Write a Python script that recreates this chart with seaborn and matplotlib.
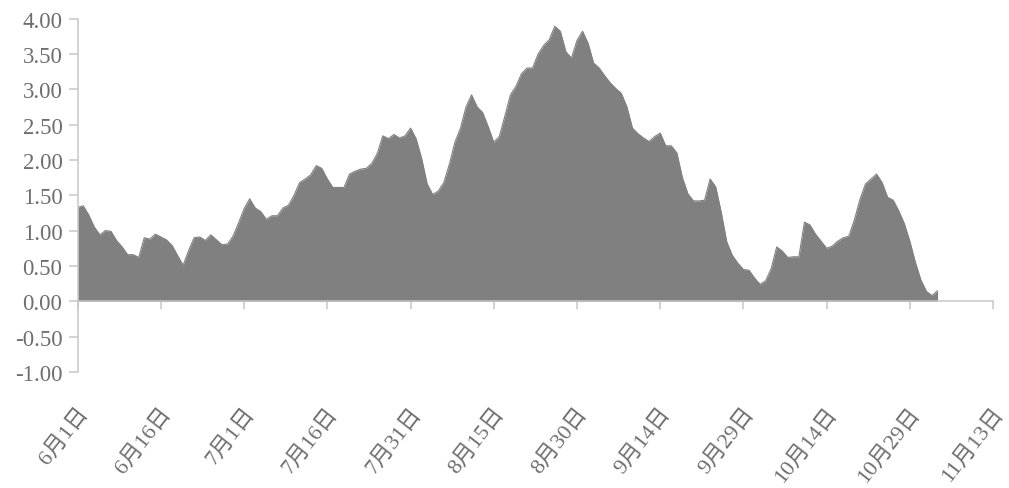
import numpy as np
import pandas as pd
import matplotlib
matplotlib.use("Agg")
import matplotlib.pyplot as plt
import matplotlib.dates as mdates
import matplotlib.transforms as mtransforms
import seaborn as sns

# ---- data (daily values, 6月1日 onward) ----
start_date = "2023-06-01"
values = [
    1.33, 1.35, 1.22, 1.05, 0.94, 1.00, 0.99, 0.86, 0.77, 0.66,   # d0-9
    0.66, 0.62, 0.90, 0.88, 0.95, 0.91, 0.87, 0.79, 0.65, 0.51,   # d10-19
    0.72, 0.90, 0.91, 0.86, 0.94, 0.87, 0.80, 0.81, 0.92, 1.11,   # d20-29
    1.31, 1.45, 1.32, 1.27, 1.16, 1.21, 1.21, 1.32, 1.36, 1.50,   # d30-39
    1.68, 1.73, 1.79, 1.92, 1.88, 1.73, 1.61, 1.61, 1.61, 1.80,   # d40-49
    1.84, 1.87, 1.88, 1.95, 2.09, 2.34, 2.30, 2.36, 2.31, 2.34,   # d50-59
    2.45, 2.30, 2.02, 1.66, 1.51, 1.56, 1.68, 1.94, 2.25, 2.45,   # d60-69
    2.75, 2.92, 2.75, 2.67, 2.47, 2.25, 2.33, 2.62, 2.92, 3.04,   # d70-79
    3.22, 3.30, 3.30, 3.50, 3.62, 3.70, 3.89, 3.82, 3.53, 3.44,   # d80-89
    3.69, 3.82, 3.65, 3.37, 3.30, 3.19, 3.09, 3.01, 2.94, 2.75,   # d90-99
    2.45, 2.37, 2.31, 2.26, 2.33, 2.38, 2.20, 2.20, 2.10, 1.75,   # d100-109
    1.52, 1.42, 1.42, 1.43, 1.73, 1.62, 1.26, 0.84, 0.65, 0.54,   # d110-119
    0.45, 0.44, 0.33, 0.24, 0.29, 0.46, 0.77, 0.71, 0.62, 0.63,   # d120-129
    0.63, 1.12, 1.08, 0.95, 0.85, 0.75, 0.78, 0.85, 0.90, 0.92,   # d130-139
    1.15, 1.44, 1.66, 1.73, 1.80, 1.68, 1.47, 1.43, 1.28, 1.10,   # d140-149
    0.85, 0.55, 0.30, 0.14, 0.08, 0.15,                           # d150-155
]
tick_labels = ["6月1日", "6月16日", "7月1日", "7月16日", "7月31日", "8月15日",
               "8月30日", "9月14日", "9月29日", "10月14日", "10月29日", "11月13日"]
y_ticks = [-1.0, -0.5, 0.0, 0.5, 1.0, 1.5, 2.0, 2.5, 3.0, 3.5, 4.0]

dates = pd.date_range(start_date, periods=len(values), freq="D")
tick_dates = pd.date_range(start_date, periods=len(tick_labels), freq="15D")
df = pd.DataFrame({"date": dates, "value": values})

# ---- style ----
sns.set_theme(style="white")
plt.rcParams["font.family"] = ["Liberation Serif", "Noto Sans CJK SC", "DejaVu Sans"]

AREA = "#808080"
AXIS = "#c8c8c8"
TEXT = "#6e6e6e"

fig = plt.figure(figsize=(10.09, 4.89), dpi=100)
ax = fig.add_axes([0.077, 0.2372, 0.9842 - 0.077, 0.9601 - 0.2372])

ax.fill_between(df["date"], 0, df["value"], color=AREA, linewidth=0)
sns.lineplot(data=df, x="date", y="value", ax=ax, color=AREA, linewidth=0.8)

ax.set_xlim(tick_dates[0], tick_dates[-1])
ax.set_ylim(-1.0, 4.0)
ax.set_xlabel("")
ax.set_ylabel("")

# y axis
ax.set_yticks(y_ticks)
ax.set_yticklabels([f"{v:.2f}" for v in y_ticks])
ax.tick_params(axis="y", direction="out", length=6.5, width=1.1, color=AXIS,
               labelcolor=TEXT, labelsize=16.5, pad=4.5, left=True)

# x axis line at zero with ticks
ax.spines["bottom"].set_position(("data", 0))
ax.set_xticks(tick_dates)
ax.tick_params(axis="x", direction="out", length=6, width=1.1, color=AXIS,
               labelbottom=False, bottom=True)

for side in ["top", "right"]:
    ax.spines[side].set_visible(False)
for side in ["left", "bottom"]:
    ax.spines[side].set_color(AXIS)
    ax.spines[side].set_linewidth(1.1)

# tick labels at the bottom of the plotting area
sec = ax.secondary_xaxis("bottom")
sec.set_xticks(tick_dates)
sec.set_xticklabels(tick_labels)
sec.spines["bottom"].set_visible(False)
sec.tick_params(axis="x", length=0, pad=27, labelcolor=TEXT, labelsize=16)
offset = mtransforms.ScaledTranslation(5 / 72, 0, fig.dpi_scale_trans)
for lbl in sec.get_xticklabels():
    lbl.set_rotation(52)
    lbl.set_ha("right")
    lbl.set_va("center")
    lbl.set_rotation_mode("anchor")
    lbl.set_transform(lbl.get_transform() + offset)

fig.savefig("out.png", dpi=100, facecolor="white")
